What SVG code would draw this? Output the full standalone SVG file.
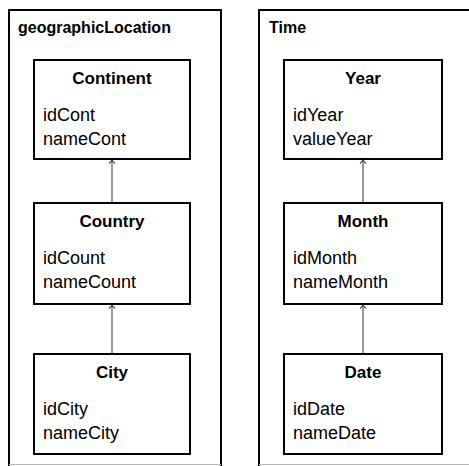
<svg xmlns="http://www.w3.org/2000/svg" width="469" height="466" viewBox="0 0 469 466">
<style>
.frame{fill:none;stroke:#000;stroke-width:2}
.box{fill:#fff;stroke:#000;stroke-width:2}
.ftitle{font-family:"Liberation Sans",Arial,sans-serif;font-size:16px;font-weight:bold;fill:#000}
.title{font-family:"Liberation Sans",Arial,sans-serif;font-size:17px;font-weight:bold;fill:#000;text-anchor:middle}
.attr{font-family:"Liberation Sans",Arial,sans-serif;font-size:18px;fill:#000}
.conn{stroke:#555;stroke-width:1.2;fill:none}
</style>
<defs>
<marker id="arr" viewBox="0 0 6 8" refX="5.2" refY="4" markerWidth="6" markerHeight="8" markerUnits="userSpaceOnUse" orient="auto">
<path d="M1.5,1 L5,4 L1.5,7" fill="none" stroke="#444" stroke-width="1.1"/>
</marker>
</defs>
<rect width="469" height="466" fill="#fff"/>
<g id="geographicLocation">
<path class="frame" d="M9,470 V10 H221 V470"/>
<line x1="9" y1="464.5" x2="221" y2="464.5" stroke="#bbb" stroke-width="1"/>
<text class="ftitle" x="18" y="33">geographicLocation</text>
</g>
<g id="time">
<path class="frame" d="M259,470 V10 H475"/>
<line x1="259" y1="464.5" x2="469" y2="464.5" stroke="#bbb" stroke-width="1"/>
<text class="ftitle" x="269" y="33">Time</text>
</g>
<g id="connectors">
<line class="conn" x1="112" y1="203" x2="112" y2="160" marker-end="url(#arr)"/>
<line class="conn" x1="112" y1="354" x2="112" y2="305" marker-end="url(#arr)"/>
<line class="conn" x1="363" y1="203" x2="363" y2="160" marker-end="url(#arr)"/>
<line class="conn" x1="363" y1="354" x2="363" y2="305" marker-end="url(#arr)"/>
</g>
<g id="continent">
<rect class="box" x="34" y="60" width="156" height="99"/>
<text class="title" x="112" y="84">Continent</text>
<text class="attr" x="43" y="121">idCont</text>
<text class="attr" x="43" y="145">nameCont</text>
</g>
<g id="country">
<rect class="box" x="34" y="203" width="156" height="101"/>
<text class="title" x="112" y="227">Country</text>
<text class="attr" x="43" y="264">idCount</text>
<text class="attr" x="43" y="288">nameCount</text>
</g>
<g id="city">
<rect class="box" x="34" y="354" width="156" height="100"/>
<text class="title" x="112" y="378">City</text>
<text class="attr" x="43" y="415">idCity</text>
<text class="attr" x="43" y="439">nameCity</text>
</g>
<g id="year">
<rect class="box" x="284" y="60" width="158" height="99"/>
<text class="title" x="363" y="84">Year</text>
<text class="attr" x="293" y="121">idYear</text>
<text class="attr" x="293" y="145">valueYear</text>
</g>
<g id="month">
<rect class="box" x="284" y="203" width="158" height="101"/>
<text class="title" x="363" y="227">Month</text>
<text class="attr" x="293" y="264">idMonth</text>
<text class="attr" x="293" y="288">nameMonth</text>
</g>
<g id="date">
<rect class="box" x="284" y="354" width="158" height="100"/>
<text class="title" x="363" y="378">Date</text>
<text class="attr" x="293" y="415">idDate</text>
<text class="attr" x="293" y="439">nameDate</text>
</g>
</svg>
